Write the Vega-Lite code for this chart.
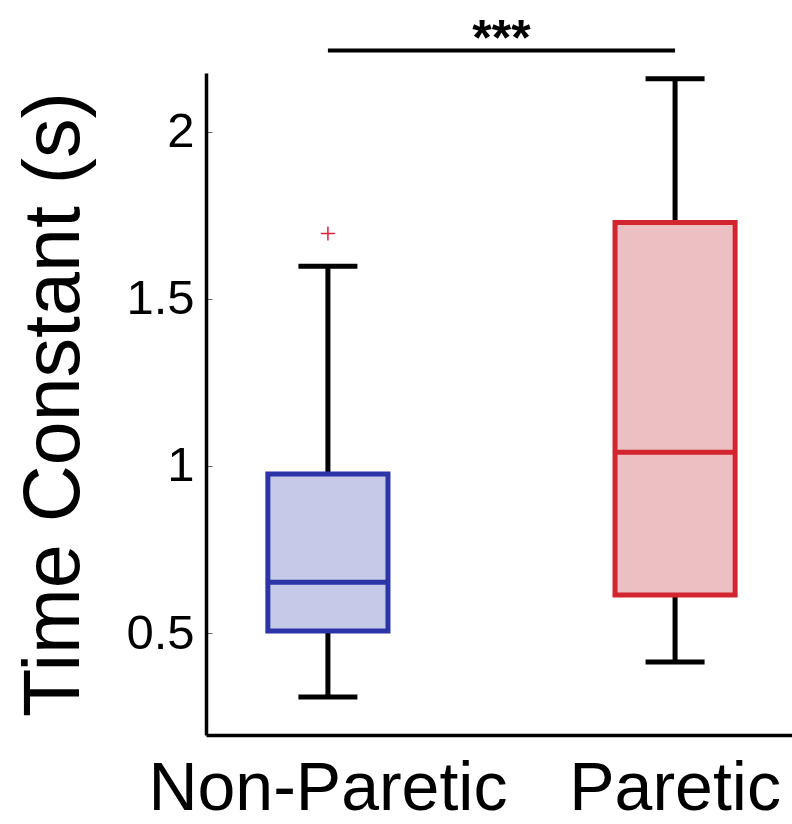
{
  "$schema": "https://vega.github.io/schema/vega-lite/v6.json",
  "width": 586,
  "height": 662,
  "autosize": {"type": "none"},
  "padding": {"left": 206, "top": 73, "right": 0, "bottom": 89},
  "background": "white",
  "config": {"view": {"stroke": null}, "font": "Liberation Sans"},
  "datasets": {
    "boxes": [
      {"group": "Non-Paretic", "lower": 0.309, "q1": 0.506, "median": 0.652, "q3": 0.976, "upper": 1.597},
      {"group": "Paretic", "lower": 0.413, "q1": 0.614, "median": 1.041, "q3": 1.728, "upper": 2.158}
    ],
    "outliers": [{"group": "Non-Paretic", "value": 1.695}],
    "sig": [{"from": "Non-Paretic", "to": "Paretic", "y": 2.242, "label": "***"}]
  },
  "layer": [
    {
      "data": {"name": "boxes"},
      "mark": {"type": "rule", "color": "black", "strokeWidth": 5},
      "encoding": {
        "x": {
          "field": "group", "type": "nominal",
          "scale": {"type": "band", "domain": ["Non-Paretic", "Paretic"], "paddingInner": 0.654, "paddingOuter": 0.171, "align": 0.521},
          "axis": {"title": null, "labelFontSize": 68, "labelColor": "black", "ticks": false, "tickSize": 0, "labelPadding": 20, "labelLimit": 0, "labelOverlap": false, "domainColor": "black", "domainWidth": 3.5, "labelAngle": 0, "grid": false, "labelFont": "Liberation Sans"}
        },
        "y": {
          "field": "lower", "type": "quantitative",
          "scale": {"domain": [0.195, 2.175], "zero": false, "nice": false},
          "axis": {"values": [0.5, 1, 1.5, 2], "labelExpr": "'' + datum.value", "title": "Time Constant (s)", "titleFontSize": 79, "titleFontWeight": "normal", "titleColor": "black", "titleFont": "Liberation Sans", "titleLimit": 0, "labelFont": "Liberation Sans", "labelFontSize": 49, "labelColor": "black", "domainColor": "black", "domainWidth": 3.5, "tickColor": "#666666", "tickSize": -6, "tickWidth": 1, "grid": false, "labelPadding": 18, "titlePadding": 30}
        },
        "y2": {"field": "upper"}
      }
    },
    {
      "data": {"name": "boxes"},
      "transform": [{"fold": ["lower", "upper"], "as": ["stat", "val"]}],
      "mark": {"type": "tick", "color": "black", "thickness": 5, "size": 59, "opacity": 1},
      "encoding": {
        "x": {"field": "group", "type": "nominal"},
        "y": {"field": "val", "type": "quantitative"}
      }
    },
    {
      "data": {"name": "boxes"},
      "mark": {"type": "bar", "strokeWidth": 5},
      "encoding": {
        "x": {"field": "group", "type": "nominal"},
        "y": {"field": "q1", "type": "quantitative"},
        "y2": {"field": "q3"},
        "fill": {"field": "group", "type": "nominal", "scale": {"domain": ["Non-Paretic", "Paretic"], "range": ["#c6c9e7", "#ecbfc2"]}, "legend": null},
        "stroke": {"field": "group", "type": "nominal", "scale": {"domain": ["Non-Paretic", "Paretic"], "range": ["#2b35a8", "#d3252f"]}, "legend": null}
      }
    },
    {
      "data": {"name": "boxes"},
      "mark": {"type": "tick", "thickness": 5, "size": 118, "opacity": 1},
      "encoding": {
        "x": {"field": "group", "type": "nominal"},
        "y": {"field": "median", "type": "quantitative"},
        "color": {"field": "group", "type": "nominal", "scale": {"domain": ["Non-Paretic", "Paretic"], "range": ["#2b35a8", "#d3252f"]}, "legend": null}
      }
    },
    {
      "data": {"name": "outliers"},
      "mark": {"type": "point", "shape": "M-1,0L1,0M0,-1L0,1", "size": 196, "strokeWidth": 1.5, "color": "#e3203c", "filled": false, "opacity": 1},
      "encoding": {
        "x": {"field": "group", "type": "nominal"},
        "y": {"field": "value", "type": "quantitative"}
      }
    },
    {
      "data": {"name": "sig"},
      "mark": {"type": "rule", "color": "black", "strokeWidth": 4, "clip": false},
      "encoding": {
        "x": {"field": "from", "type": "nominal"},
        "x2": {"field": "to"},
        "y": {"field": "y", "type": "quantitative"}
      }
    },
    {
      "data": {"name": "sig"},
      "mark": {"type": "text", "fontSize": 50, "fontWeight": "bold", "baseline": "alphabetic", "align": "center", "dx": 173.5, "dy": 4, "color": "black", "font": "Liberation Sans"},
      "encoding": {
        "x": {"field": "from", "type": "nominal"},
        "y": {"field": "y", "type": "quantitative"},
        "text": {"field": "label"}
      }
    }
  ]
}
